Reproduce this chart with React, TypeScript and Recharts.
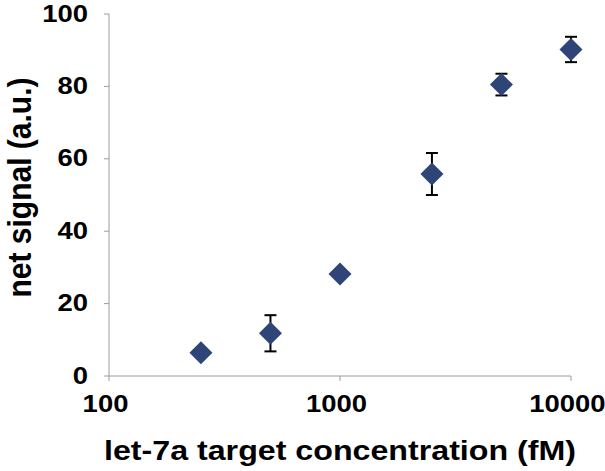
import { ScatterChart, Scatter, XAxis, YAxis, ErrorBar, LabelList } from 'recharts'

const concentration = [250, 500, 1000, 2500, 5000, 10000]
const netSignal = [6.4, 11.8, 28.2, 55.8, 80.5, 90.2]
const signalError = [0, 5, 0, 5.8, 3, 3.5]
const xTicks = [100, 1000, 10000]
const yTicks = [0, 20, 40, 60, 80, 100]

const data = concentration.map((c, i) => ({ conc: c, signal: netSignal[i], err: signalError[i] }))

const AXIS_COLOR = '#a39a94'
const MARKER = '#2f4577'
const FONT = '"Liberation Sans", Arial, sans-serif'
// the original picture is a little wider than tall, so glyphs are stretched
const STRETCH = 1.12

function diamondPath(cx: number, cy: number) {
    const r = 11.5
    return `M${cx},${cy - r} L${cx + r},${cy} L${cx},${cy + r} L${cx - r},${cy} Z`
}

// markers are drawn from the label layer so that they sit above the error bars
function DiamondLabel(props: any) {
    const box = props.viewBox ?? props
    const cx = box.x + (box.width ?? 0) / 2
    const cy = box.y + (box.height ?? 0) / 2
    return <path d={diamondPath(cx, cy)} fill={MARKER} />
}

function NoMark() {
    return <g />
}

function XTick(props: any) {
    const { x, y, payload } = props
    return (
        <text
            transform={`translate(${x - 3.5},${y + 30.5}) scale(${STRETCH},1)`}
            textAnchor="middle"
            fontFamily={FONT}
            fontWeight="bold"
            fontSize={24.5}
            fill="#000"
        >
            {payload.value}
        </text>
    )
}

function YTick(props: any) {
    const { x, y, payload } = props
    return (
        <text
            transform={`translate(${x},${y + 7.5}) scale(${STRETCH},1)`}
            textAnchor="end"
            fontFamily={FONT}
            fontWeight="bold"
            fontSize={24.5}
            fill="#000"
        >
            {payload.value}
        </text>
    )
}

function XTitle(props: any) {
    const { viewBox } = props
    const x = viewBox.x + viewBox.width / 2
    return (
        <text
            x={x}
            y={460}
            textAnchor="middle"
            fontFamily={FONT}
            fontWeight="bold"
            fontSize={28}
            textLength={472}
            lengthAdjust="spacingAndGlyphs"
            fill="#000"
        >
            let-7a target concentration (fM)
        </text>
    )
}

function YTitle() {
    return (
        <text
            transform={`translate(31,187.5) scale(${STRETCH},1) rotate(-90)`}
            textAnchor="middle"
            fontFamily={FONT}
            fontWeight="bold"
            fontSize={30}
            fill="#000"
        >
            net signal (a.u.)
        </text>
    )
}

export default function App() {
    return (
        <div style={{ position: 'absolute', left: 0, top: 0, background: '#fff' }}>
            <ScatterChart width={605} height={471} margin={{ top: 14, right: 34, bottom: 0, left: 0 }}>
                <XAxis
                    type="number"
                    dataKey="conc"
                    scale="log"
                    domain={[100, 10000]}
                    ticks={xTicks}
                    height={95}
                    stroke={AXIS_COLOR}
                    tickSize={5}
                    tickMargin={0}
                    tick={<XTick />}
                    label={<XTitle />}
                />
                <YAxis
                    type="number"
                    dataKey="signal"
                    domain={[0, 100]}
                    ticks={yTicks}
                    width={109}
                    stroke={AXIS_COLOR}
                    tickSize={5}
                    tickMargin={16}
                    tick={<YTick />}
                    label={<YTitle />}
                />
                <Scatter data={data} shape={<NoMark />} isAnimationActive={false}>
                    <ErrorBar
                        dataKey="err"
                        direction="y"
                        width={6}
                        stroke="#000"
                        strokeWidth={2}
                        isAnimationActive={false}
                    />
                    <LabelList dataKey="signal" content={<DiamondLabel />} />
                </Scatter>
            </ScatterChart>
        </div>
    )
}
